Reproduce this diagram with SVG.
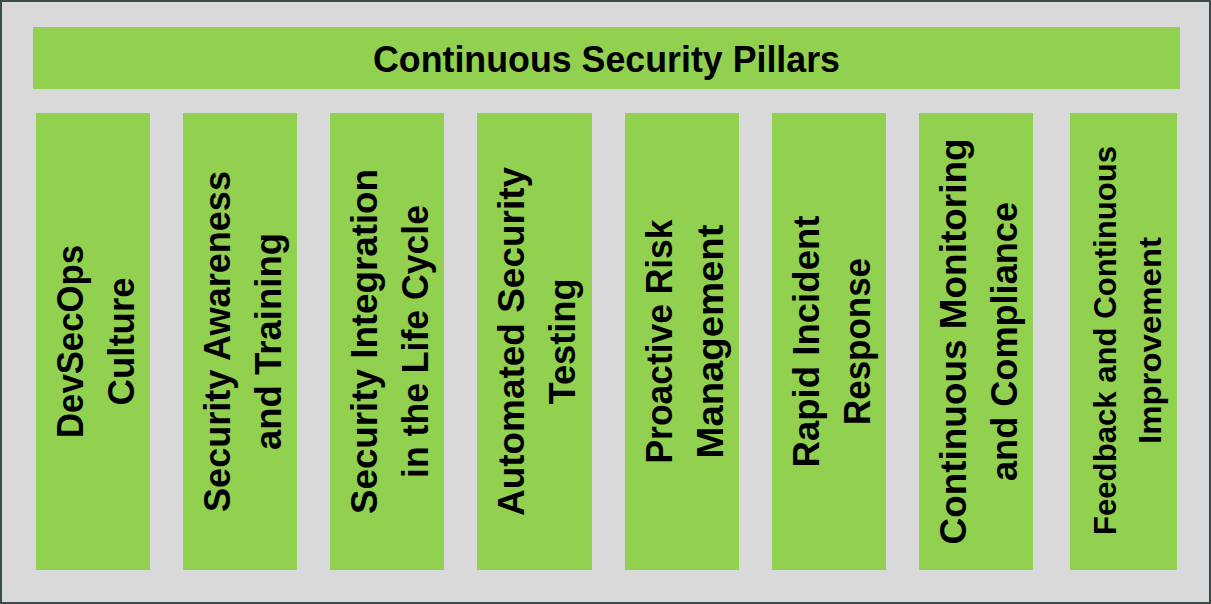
<svg xmlns="http://www.w3.org/2000/svg" width="1211" height="604" viewBox="0 0 1211 604">
<style>
.bg{fill:#d9d9d9;stroke:#3c4a4a;stroke-width:2}
.box{fill:#92d050}
.t{font-family:"Liberation Sans",Arial,sans-serif;font-weight:bold;fill:#000;text-anchor:middle}
.p{font-size:37px}
.p8{font-size:31px}
</style>
<rect class="bg" x="1" y="1" width="1209" height="602"/>
<g id="title">
<rect class="box" x="33" y="27" width="1147" height="62"/>
<text class="t" x="606.5" y="72" font-size="36" textLength="467" lengthAdjust="spacingAndGlyphs">Continuous Security Pillars</text>
</g>
<g id="pillar1">
<rect class="box" x="36" y="113" width="114" height="457"/>
<g transform="rotate(-90 0 341.5)">
<text class="t p" x="0" y="424.5" textLength="193" lengthAdjust="spacingAndGlyphs">DevSecOps</text>
<text class="t p" x="0" y="475" textLength="128" lengthAdjust="spacingAndGlyphs">Culture</text>
</g>
</g>
<g id="pillar2">
<rect class="box" x="183" y="113" width="114" height="457"/>
<text class="t p" transform="translate(230 341.5) rotate(-90)" textLength="341" lengthAdjust="spacingAndGlyphs">Security Awareness</text>
<text class="t p" transform="translate(280.5 341.5) rotate(-90)" textLength="217" lengthAdjust="spacingAndGlyphs">and Training</text>
</g>
<g id="pillar3">
<rect class="box" x="330" y="113" width="114" height="457"/>
<text class="t p" transform="translate(377 341.5) rotate(-90)" textLength="345" lengthAdjust="spacingAndGlyphs">Security Integration</text>
<text class="t p" transform="translate(427.5 341.5) rotate(-90)" textLength="273" lengthAdjust="spacingAndGlyphs">in the Life Cycle</text>
</g>
<g id="pillar4">
<rect class="box" x="477" y="113" width="115" height="457"/>
<text class="t p" transform="translate(524 341.5) rotate(-90)" textLength="349" lengthAdjust="spacingAndGlyphs">Automated Security</text>
<text class="t p" transform="translate(574.5 341.5) rotate(-90)" textLength="126" lengthAdjust="spacingAndGlyphs">Testing</text>
</g>
<g id="pillar5">
<rect class="box" x="625" y="113" width="114" height="457"/>
<text class="t p" transform="translate(672 341.5) rotate(-90)" textLength="244" lengthAdjust="spacingAndGlyphs">Proactive Risk</text>
<text class="t p" transform="translate(722.5 341.5) rotate(-90)" textLength="234" lengthAdjust="spacingAndGlyphs">Management</text>
</g>
<g id="pillar6">
<rect class="box" x="772" y="113" width="114" height="457"/>
<text class="t p" transform="translate(819 341.5) rotate(-90)" textLength="252" lengthAdjust="spacingAndGlyphs">Rapid Incident</text>
<text class="t p" transform="translate(869.5 341.5) rotate(-90)" textLength="167" lengthAdjust="spacingAndGlyphs">Response</text>
</g>
<g id="pillar7">
<rect class="box" x="919" y="113" width="114" height="457"/>
<text class="t p" transform="translate(966 341.5) rotate(-90)" textLength="406" lengthAdjust="spacingAndGlyphs">Continuous Monitoring</text>
<text class="t p" transform="translate(1016.5 341.5) rotate(-90)" textLength="279" lengthAdjust="spacingAndGlyphs">and Compliance</text>
</g>
<g id="pillar8">
<rect class="box" x="1070" y="113" width="107" height="457"/>
<text class="t p8" transform="translate(1116 340.5) rotate(-90)" textLength="389" lengthAdjust="spacingAndGlyphs">Feedback and Continuous</text>
<text class="t p8" transform="translate(1161 340.5) rotate(-90)" textLength="207" lengthAdjust="spacingAndGlyphs">Improvement</text>
</g>
<g id="connectors"/>
</svg>
